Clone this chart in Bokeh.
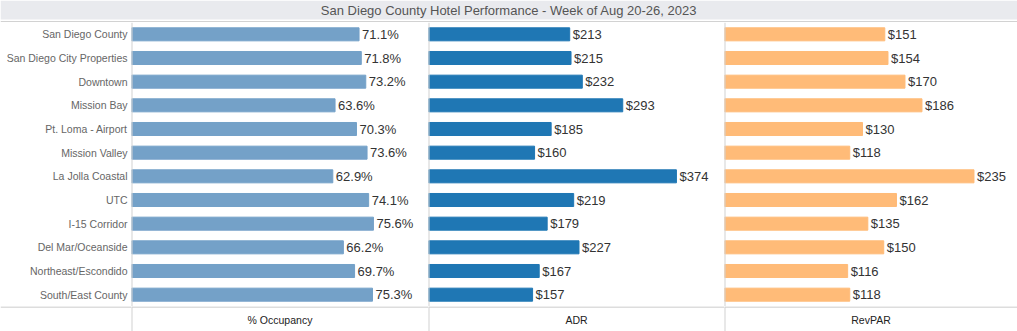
from bokeh.plotting import figure
from bokeh.layouts import column, row
from bokeh.models import Range1d, FactorRange, Span, BoxAnnotation, ColumnDataSource
from bokeh.core.properties import value
from bokeh.embed import file_html
from bokeh.resources import INLINE

title_text = "San Diego County Hotel Performance - Week of Aug 20-26, 2023"
categories = ["San Diego County", "San Diego City Properties", "Downtown", "Mission Bay",
              "Pt. Loma - Airport", "Mission Valley", "La Jolla Coastal", "UTC",
              "I-15 Corridor", "Del Mar/Oceanside", "Northeast/Escondido", "South/East County"]
occupancy = [71.1, 71.8, 73.2, 63.6, 70.3, 73.6, 62.9, 74.1, 75.6, 66.2, 69.7, 75.3]
adr = [213, 215, 232, 293, 185, 160, 374, 219, 179, 227, 167, 157]
revpar = [151, 154, 170, 186, 130, 118, 235, 162, 135, 150, 116, 118]
measure_names = ["% Occupancy", "ADR", "RevPAR"]

FONT = "Liberation Sans"
LINE = "#d2d2d2"

def base(width, height, xr, yr, **kw):
    p = figure(width=width, height=height, x_range=xr, y_range=yr,
               output_backend="svg", toolbar_location=None,
               min_border_left=kw.pop("min_border_left", 0), min_border_right=0,
               min_border_top=0, min_border_bottom=0,
               x_axis_location=None, y_axis_location=kw.pop("y_axis_location", None), **kw)
    p.grid.visible = False
    p.outline_line_color = None
    p.background_fill_color = "white"
    p.border_fill_color = "white"
    return p

# Title band
tp = base(1017, 22, Range1d(0, 1), Range1d(0, 22))
tp.add_layout(BoxAnnotation(bottom=3, fill_color="#e9eaee", fill_alpha=1, line_color=None,
                            level="underlay"))
tp.add_layout(Span(location=0.75, dimension="width", line_color=LINE, line_width=1.5))
tp.text(x=[0.5], y=[12.5], text=[title_text], text_align="center", text_baseline="middle",
        text_font=value(FONT), text_font_size="13px", text_color="#555555")

factors = list(reversed(categories))

def panel(width, values, fmt, color, xmax, with_axis=False):
    src = ColumnDataSource(dict(cat=categories, val=values, lbl=[fmt(v) for v in values]))
    kw = {}
    if with_axis:
        kw = dict(min_border_left=131, y_axis_location="left")
    p = base(width, 284, Range1d(0, xmax), FactorRange(factors=factors), **kw)
    p.hbar(y="cat", right="val", left=0, height=0.55, color=color, source=src)
    p.text(x="val", y="cat", text="lbl", x_offset=3, text_baseline="middle",
           text_font=value(FONT), text_font_size="13px", text_color="#333333", source=src)
    p.add_layout(Span(location=0, dimension="height", line_color=LINE, line_width=2))
    if with_axis:
        ax = p.yaxis[0]
        ax.axis_line_color = None
        ax.major_tick_line_color = None
        ax.minor_tick_line_color = None
        ax.major_tick_out = 0
        ax.major_tick_in = 0
        ax.major_label_standoff = 4
        ax.major_label_text_font = FONT
        ax.major_label_text_font_size = "10.5px"
        ax.major_label_text_color = "#666666"
    return p

pa = panel(428, occupancy, lambda v: f"{v:.1f}%", "#74a1c8", 92.8, with_axis=True)
pb = panel(296, adr, lambda v: f"${v}", "#1f77b4", 446.5)
pc = panel(293, revpar, lambda v: f"${v}", "#ffbb78", 276.0)

def bottom(width, label=None):
    p = base(width, 25, Range1d(0, 1), Range1d(0, 25))
    p.add_layout(Span(location=24.5, dimension="width", line_color=LINE, line_width=1.5))
    if label is not None:
        p.add_layout(Span(location=0, dimension="height", line_color=LINE, line_width=2))
        p.text(x=[0.5], y=[12], text=[label], text_align="center", text_baseline="middle",
               text_font=value(FONT), text_font_size="10.5px", text_color="#222222")
    return p

b0 = bottom(131)
b1 = bottom(297, measure_names[0])
b2 = bottom(296, measure_names[1])
b3 = bottom(293, measure_names[2])

layout = column(tp, row(pa, pb, pc), row(b0, b1, b2, b3))
open("out.html", "w").write(file_html(layout, INLINE))
